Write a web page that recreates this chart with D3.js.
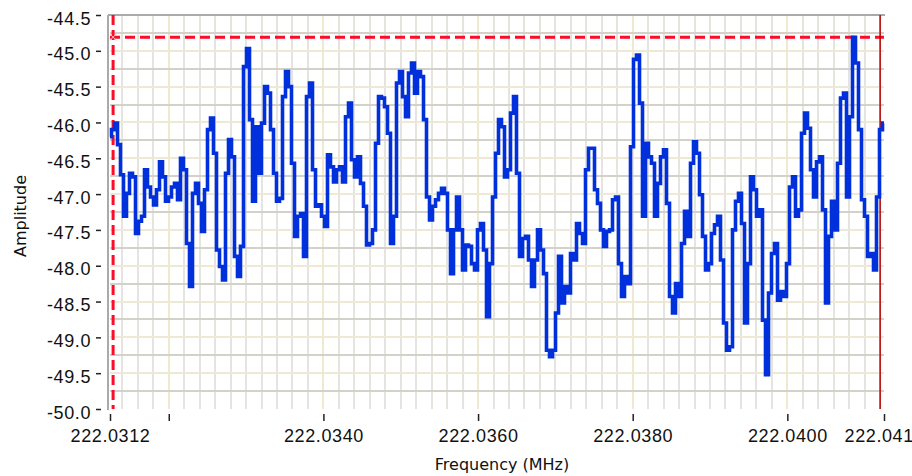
<!DOCTYPE html>
<html>
<head>
<meta charset="utf-8">
<script src="https://cdn.jsdelivr.net/npm/d3@7"></script>
<style>
body { margin: 0; background: #fff; }
svg { display: block; }
</style>
</head>
<body>
<script>
const WIDTH = 912;
const HEIGHT = 476;
const LEFT = 110, RIGHT = 884, TOP = 15, BOTTOM = 409;

// frequency axis (MHz): first and last sample of the sweep
const freqStart = 222.03124;
const freqEnd = 222.04125;

// amplitude readings, evenly spaced from freqStart to freqEnd
const amplitude = [
  -46.20, -46.10, -46.01, -46.31, -46.73, -47.31, -46.99, -46.71, -46.76, -47.55,
  -47.38, -47.31, -46.66, -46.90, -47.04, -47.15, -46.94, -46.55, -46.76, -47.10,
  -47.04, -46.90, -46.85, -47.08, -46.50, -46.66, -47.69, -48.29, -46.99, -46.85,
  -47.13, -47.52, -46.94, -46.10, -45.94, -46.43, -47.78, -48.01, -48.20, -46.71,
  -46.24, -46.48, -47.87, -48.15, -47.73, -45.22, -44.97, -45.96, -47.10, -46.06,
  -46.71, -46.01, -45.50, -45.59, -46.10, -46.71, -47.10, -47.06, -45.64, -45.29,
  -45.50, -46.57, -47.59, -47.31, -47.27, -47.87, -45.64, -45.45, -46.66, -47.17,
  -47.15, -47.31, -47.45, -46.45, -46.62, -46.83, -46.66, -46.62, -46.83, -45.92,
  -45.73, -46.52, -46.76, -46.48, -46.85, -47.17, -47.71, -47.69, -47.50, -46.29,
  -45.64, -45.66, -45.78, -46.15, -47.69, -47.31, -45.45, -45.29, -45.64, -45.92,
  -45.31, -45.17, -45.59, -45.29, -45.36, -45.96, -47.04, -47.36, -47.17, -47.08,
  -46.99, -46.92, -46.99, -47.50, -48.11, -47.50, -47.04, -47.50, -48.06, -47.71,
  -47.73, -47.97, -48.06, -47.50, -47.41, -47.78, -48.71, -47.97, -47.04, -46.43,
  -45.96, -46.06, -46.76, -46.66, -45.87, -45.64, -46.71, -47.87, -47.62, -47.59,
  -47.92, -48.29, -47.92, -47.50, -47.78, -48.11, -49.18, -49.27, -49.18, -48.66,
  -47.87, -48.52, -48.29, -48.38, -47.83, -47.92, -47.41, -47.55, -47.69, -46.66,
  -46.36, -46.36, -46.94, -47.13, -47.50, -47.73, -47.52, -47.50, -47.08, -47.04,
  -47.97, -48.43, -48.15, -48.25, -46.34, -45.12, -45.06, -45.73, -47.31, -46.29,
  -46.48, -46.57, -47.31, -46.85, -46.48, -46.38, -47.13, -48.43, -48.66, -48.25,
  -48.43, -47.69, -47.24, -47.59, -46.57, -46.27, -46.43, -47.01, -47.59, -48.06,
  -47.97, -47.55, -47.43, -47.31, -47.92, -48.80, -49.18, -49.13, -47.50, -47.10,
  -46.99, -47.41, -48.80, -47.97, -46.76, -46.94, -47.31, -47.22, -48.76, -49.52,
  -48.38, -47.83, -47.69, -48.48, -48.36, -48.43, -47.97, -46.90, -46.76, -47.31,
  -47.22, -46.15, -45.87, -46.08, -46.66, -47.04, -46.55, -46.48, -47.22, -48.52,
  -47.59, -47.10, -47.50, -46.57, -45.66, -45.59, -47.04, -45.92, -44.81, -45.17,
  -46.10, -47.08, -47.31, -47.87, -47.83, -48.06, -47.04, -46.10, -46.01
];

// x ticks and their labels (the 222.0320 tick has no label)
const xTickValues = [freqStart, 222.032, 222.034, 222.036, 222.038, 222.040, freqEnd];
const xTickLabels = ['222.0312', '', '222.0340', '222.0360', '222.0380', '222.0400', '222.0412'];
const yTickValues = [-50, -49.5, -49, -48.5, -48, -47.5, -47, -46.5, -46, -45.5, -45, -44.5];

// cursors
const cursorFreq = 222.03128;
const cursorAmp = -44.81;
const markerFreq = 222.0412;

const step = (freqEnd - freqStart) / (amplitude.length - 1);
const points = amplitude.map((a, i) => [freqStart + i * step, a]);

const x = d3.scaleLinear().domain([freqStart, freqEnd]).range([LEFT, RIGHT]);
const y = d3.scaleLinear().domain([-50, -44.5]).range([BOTTOM, TOP]);

const svg = d3.select('body')
    .append('svg')
    .attr('width', WIDTH)
    .attr('height', HEIGHT)
    .style('font-family', '"DejaVu Sans", Verdana, sans-serif');

// grid: vertical every 0.0002 MHz, horizontal every 0.25
const vGrid = d3.range(1110157, 1110207).map(k => ({ v: k * 0.0002, major: k % 10 === 0 }));
const hGrid = d3.range(-199, -178).map(k => ({ v: k / 4, major: k % 2 === 0 }));

const grid = svg.append('g');
grid.selectAll('.vg')
    .data(vGrid)
    .join('line')
    .attr('x1', d => Math.round(x(d.v)))
    .attr('x2', d => Math.round(x(d.v)))
    .attr('y1', TOP)
    .attr('y2', BOTTOM)
    .attr('stroke', d => d.major ? '#efe9d0' : '#e6e4de')
    .attr('stroke-width', 2);
grid.selectAll('.hg')
    .data(hGrid)
    .join('line')
    .attr('x1', LEFT)
    .attr('x2', RIGHT)
    .attr('y1', d => Math.round(y(d.v)))
    .attr('y2', d => Math.round(y(d.v)))
    .attr('stroke', d => d.major ? '#eee9d6' : '#d4d1ca')
    .attr('stroke-width', 2);

// frame
svg.append('line')
    .attr('x1', LEFT - 2).attr('x2', RIGHT + 1)
    .attr('y1', TOP).attr('y2', TOP)
    .attr('stroke', '#aaa').attr('stroke-width', 2);
svg.append('line')
    .attr('x1', LEFT - 2).attr('x2', LEFT - 2)
    .attr('y1', TOP).attr('y2', BOTTOM + 1)
    .attr('stroke', '#aaa').attr('stroke-width', 2);

// cursors
const cursors = svg.append('g');
cursors.append('line')
    .attr('x1', x(cursorFreq)).attr('x2', x(cursorFreq))
    .attr('y1', TOP).attr('y2', BOTTOM)
    .attr('stroke', '#ff0a28').attr('stroke-width', 3)
    .attr('stroke-dasharray', '10,5');
cursors.append('line')
    .attr('x1', LEFT).attr('x2', RIGHT)
    .attr('y1', y(cursorAmp)).attr('y2', y(cursorAmp))
    .attr('stroke', '#ff0a28').attr('stroke-width', 3)
    .attr('stroke-dasharray', '10,5');
cursors.append('line')
    .attr('x1', x(markerFreq)).attr('x2', x(markerFreq))
    .attr('y1', TOP).attr('y2', BOTTOM)
    .attr('stroke', '#b80000').attr('stroke-width', 1.5);

// data
svg.append('path')
    .datum(points)
    .attr('fill', 'none')
    .attr('stroke', '#0030dc')
    .attr('stroke-width', 3.6)
    .attr('stroke-linejoin', 'miter')
    .attr('d', d3.line()
        .x(d => x(d[0]))
        .y(d => y(d[1]))
        .curve(d3.curveStep));

// cursor cross marker
const cx = x(cursorFreq), cy = y(cursorAmp);
svg.append('path')
    .attr('d', `M${cx - 3},${cy - 3}L${cx + 3},${cy + 3}M${cx - 3},${cy + 3}L${cx + 3},${cy - 3}`)
    .attr('stroke', '#ffc8c8')
    .attr('stroke-width', 1);

// axes
const yAxis = svg.append('g')
    .attr('transform', 'translate(101,0)')
    .call(d3.axisLeft(y).tickValues(yTickValues).tickFormat(d => d.toFixed(1)).tickSize(5).tickPadding(5));
const xAxis = svg.append('g')
    .attr('transform', `translate(0,${BOTTOM + 5})`)
    .call(d3.axisBottom(x).tickValues(xTickValues).tickFormat((d, i) => xTickLabels[i]).tickSize(7).tickPadding(8));

[yAxis, xAxis].forEach(a => {
    a.select('.domain').remove();
    a.selectAll('.tick line').attr('stroke', '#222').attr('stroke-width', 1.5);
    a.selectAll('.tick text')
        .attr('fill', '#111')
        .style('font-size', '18px')
        .style('letter-spacing', '0.6px');
});
yAxis.selectAll('.tick text').attr('dy', '0.5em');

svg.append('text')
    .attr('x', 502)
    .attr('y', 470)
    .attr('text-anchor', 'middle')
    .style('font-size', '16px')
    .attr('fill', '#111')
    .text('Frequency (MHz)');

svg.append('text')
    .attr('transform', 'translate(26,216) rotate(-90)')
    .attr('text-anchor', 'middle')
    .style('font-size', '16px')
    .attr('fill', '#111')
    .text('Amplitude');
</script>
</body>
</html>
